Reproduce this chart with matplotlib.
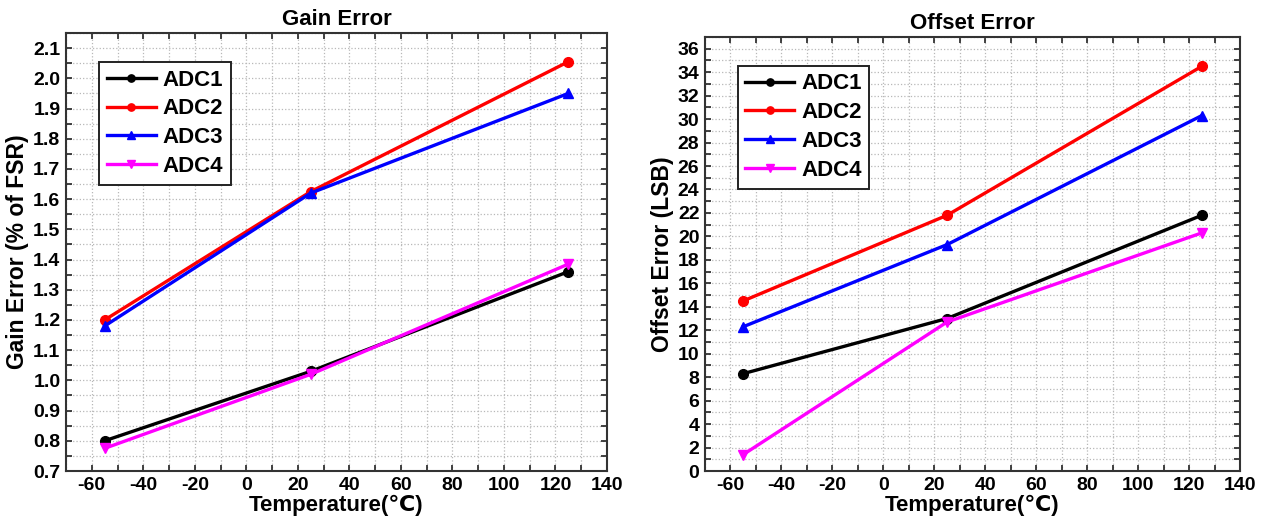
import numpy as np
import matplotlib
matplotlib.use("Agg")
import matplotlib.pyplot as plt
from matplotlib.ticker import MultipleLocator

plt.rcParams['font.family'] = ['Liberation Sans', 'DejaVu Sans']
plt.rcParams['font.weight'] = 'bold'
plt.rcParams['axes.unicode_minus'] = False

# measurement temperatures (deg C)
temps = [-55, 25, 125]
labels = ["ADC1", "ADC2", "ADC3", "ADC4"]
colors = ["black", "#ff0000", "#0000ff", "#ff00ff"]
markers = ["o", "o", "^", "v"]

# gain error (% of FSR)
gain_adc1 = [0.80, 1.03, 1.36]
gain_adc2 = [1.20, 1.625, 2.055]
gain_adc3 = [1.18, 1.62, 1.95]
gain_adc4 = [0.775, 1.02, 1.385]

# offset error (LSB)
offset_adc1 = [8.3, 13.0, 21.8]
offset_adc2 = [14.5, 21.8, 34.5]
offset_adc3 = [12.3, 19.3, 30.3]
offset_adc4 = [1.4, 12.7, 20.3]

gain_series = [gain_adc1, gain_adc2, gain_adc3, gain_adc4]
offset_series = [offset_adc1, offset_adc2, offset_adc3, offset_adc4]


def style_axes(ax, ymaj, ymin):
    ax.set_xlim(-70, 140)
    ax.xaxis.set_major_locator(MultipleLocator(20))
    ax.xaxis.set_minor_locator(MultipleLocator(10))
    ax.yaxis.set_major_locator(MultipleLocator(ymaj))
    ax.yaxis.set_minor_locator(MultipleLocator(ymin))
    ax.tick_params(which='both', direction='in', top=True, right=True,
                   length=4, width=1.2, color='#222222', labelsize=14, pad=4)
    ax.grid(which='both', linestyle=':', color='#b8b8b8', linewidth=0.9)
    ax.set_axisbelow(True)
    for sp in ax.spines.values():
        sp.set_linewidth(1.5)
        sp.set_color('#333333')
    for lab in ax.get_xticklabels() + ax.get_yticklabels():
        lab.set_fontweight('bold')


def draw(ax, series, title, ylabel):
    for vals, lab, col, mk in zip(series, labels, colors, markers):
        ax.plot(temps, vals, color=col, marker=mk, markersize=7, linewidth=2.4,
                label=lab, clip_on=False, zorder=3)
    ax.set_title(title, fontsize=16, fontweight='bold', pad=6)
    ax.set_xlabel("Temperature(\u2103)", fontsize=16, fontweight='bold', labelpad=1)
    ax.set_ylabel(ylabel, fontsize=16.5, fontweight='bold', labelpad=3)
    leg = ax.legend(loc='upper left', bbox_to_anchor=(0.061, 0.934), fontsize=16,
                    frameon=True, fancybox=False, framealpha=1, edgecolor='#222222',
                    handlelength=2.2, labelspacing=0.35, borderpad=0.35,
                    handletextpad=0.3, markerscale=0.75, borderaxespad=0)
    leg.get_frame().set_linewidth(1.4)
    for t in leg.get_texts():
        t.set_fontweight('bold')


fig = plt.figure(figsize=(12.7, 5.23), dpi=100)
ax1 = fig.add_axes([66 / 1270, 1 - 471 / 523, (607 - 66) / 1270, (471 - 33) / 523])
ax2 = fig.add_axes([705 / 1270, 1 - 471 / 523, (1240 - 705) / 1270, (471 - 37) / 523])

draw(ax1, gain_series, "Gain Error", "Gain Error (% of FSR)")
ax1.set_ylim(0.7, 2.15)
style_axes(ax1, 0.1, 0.05)
ax1.yaxis.set_major_formatter(plt.FormatStrFormatter('%.1f'))

draw(ax2, offset_series, "Offset Error", "Offset Error (LSB)")
ax2.set_ylim(0, 37)
style_axes(ax2, 2, 1)

fig.savefig("out.png", dpi=100)
